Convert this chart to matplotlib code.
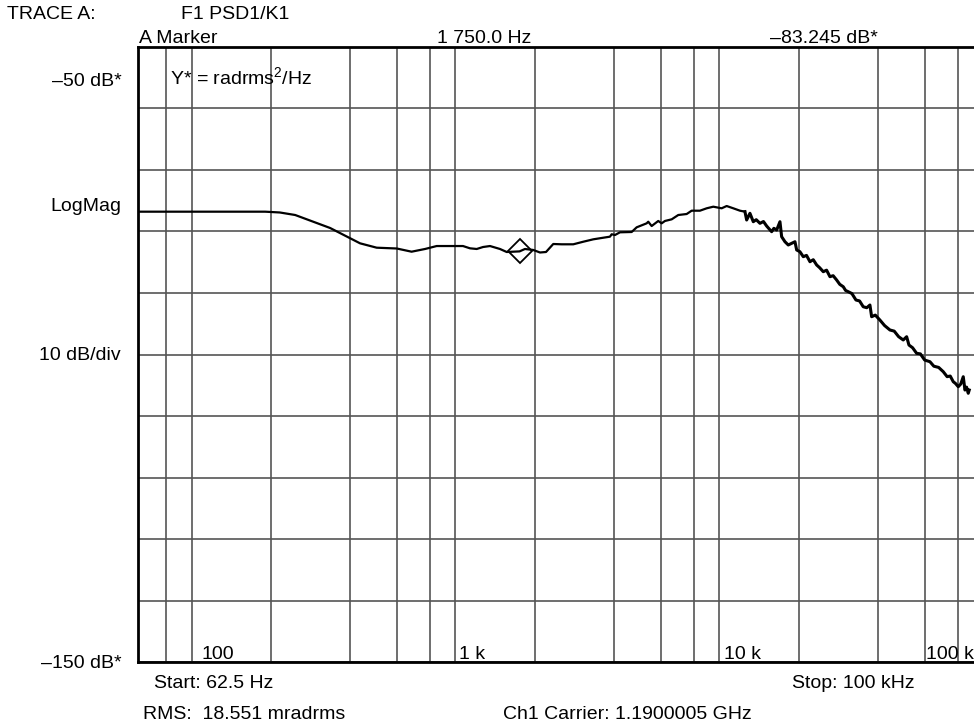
import matplotlib
matplotlib.use('Agg')
import matplotlib.pyplot as plt
import numpy as np

plt.rcParams['font.family'] = ['Liberation Sans', 'DejaVu Sans']
plt.rcParams['mathtext.fontset'] = 'custom'
plt.rcParams['mathtext.rm'] = 'Liberation Sans'
plt.rcParams['mathtext.it'] = 'Liberation Sans:italic'

# trace (Hz, dB)
freq = [62.5, 190, 216, 247, 335, 435, 503, 599, 682, 767, 849, 1068, 1135, 1204,
        1272, 1352, 1475, 1564, 1750, 1834, 1972, 2091, 2204, 2348, 2527, 2796,
        3051, 3329, 3633, 3851, 3909, 4023, 4203, 4654, 4862, 5305, 5379, 5541,
        5869, 6046, 6223, 6600, 6989, 7520, 7856, 8444, 8957, 9487, 10206, 10662,
        11294, 11975,
        12506, 12694, 13063, 13450, 13800, 14256, 14700, 15113, 15450, 15788,
        16100, 16494, 16975, 17225, 17731, 18250, 18800, 19350, 19638, 20200,
        20806, 21400, 22056, 22700, 23381, 24000, 24769, 25500, 26256, 27000,
        27838, 28600, 29488, 30100, 30806, 31800, 32944, 34000, 35100, 36200,
        37219, 37775, 39000, 40600, 42300, 44319, 46000, 47800, 49769, 51275,
        52313, 54000, 55944, 57800, 60000, 62831, 65000, 67800, 70556, 73000,
        75000, 77013, 78500, 80438, 82200, 84031, 85281, 86500, 87769, 88538]
psd_db = [-76.8, -76.8, -76.93, -77.34, -79.45, -81.94, -82.65, -82.78, -83.30,
          -82.86, -82.38, -82.38, -82.75, -82.86, -82.54, -82.38, -82.86, -83.35,
          -83.25, -82.86, -83.02, -83.43, -83.35, -82.05, -82.10, -82.10, -81.68,
          -81.29, -81.03, -80.86, -80.47, -80.59, -80.15, -80.10, -79.34, -78.69,
          -78.43, -79.13, -78.31, -78.69, -78.31, -78.04, -77.34, -77.18, -76.64,
          -76.64, -76.25, -75.99, -76.25, -75.88, -76.25, -76.64,
          -76.80, -78.15, -77.06, -78.43, -78.1, -78.69, -78.4, -79.13, -79.6,
          -80.05, -79.5, -79.78, -78.43, -80.86, -81.68, -82.21, -81.94, -81.68,
          -83.02, -83.3, -84.11, -83.9, -84.93, -84.6, -85.46, -85.9, -86.55,
          -86.3, -87.36, -87.2, -87.90, -88.6, -88.99, -89.6, -89.80, -90.1,
          -91.15, -91.3, -92.24, -92.4, -91.96, -93.86, -93.6, -94.40, -95.3,
          -96.02, -96.2, -97.1, -97.64, -97.11, -98.46, -98.9, -99.81, -99.9,
          -100.9, -101.17, -101.9, -102.1, -102.79, -103.6, -103.5, -104.42,
          -104.7, -105.23, -104.8, -103.61, -105.77, -105.3, -106.30, -105.77]

marker_freq = 1750.0
marker_db = -83.245

grid_freq = [80, 100, 200, 400, 600, 800, 1000, 2000, 4000, 6000, 8000,
             10000, 20000, 40000, 60000, 80000]
grid_db = list(range(-150, -40, 10))
freq_labels = ['100', '1 k', '10 k', '100 k']
freq_label_at = [100, 1000, 10000, 60000]

W, H = 974, 725
fig = plt.figure(figsize=(W / 100, H / 100), dpi=100)
left, right, top, bottom = 137.7, 983.2, 46.7, 662.3
ax = fig.add_axes([left / W, 1 - bottom / H, (right - left) / W, (bottom - top) / H])

ax.set_xscale('log')
ax.set_xlim(62.5, 100000)
ax.set_ylim(-150, -50)
ax.set_xticks(grid_freq)
ax.set_yticks(grid_db)
ax.xaxis.set_minor_locator(matplotlib.ticker.NullLocator())
ax.set_xticklabels([])
ax.set_yticklabels([])
ax.tick_params(length=0)
ax.grid(True, color='#555555', lw=1.2)
for s in ax.spines.values():
    s.set_linewidth(2)
    s.set_color('black')

f = np.array(freq)
d = np.array(psd_db)
lo = f <= 12600
ax.plot(f[lo], d[lo], color='black', lw=1.6, zorder=3)
hi = f >= 12506
ax.plot(f[hi], d[hi], color='black', lw=2.2, zorder=3)
ax.plot([marker_freq], [marker_db], marker='D', ms=12.5, mfc='none',
        mec='black', mew=1.3, zorder=4)

offs = [10, 4, 5, 1]
for lab, fx, dx in zip(freq_labels, freq_label_at, offs):
    ax.annotate(lab, xy=(fx, 0), xycoords=('data', 'axes fraction'),
                xytext=(dx, 3.5), textcoords='offset pixels',
                ha='left', va='baseline', fontsize=14)


def ftext(x, y, s, ha='left'):
    fig.text(x / W, 1 - y / H, s, ha=ha, va='baseline', fontsize=14)


ftext(7, 19, 'TRACE A:')
ftext(181, 19, 'F1 PSD1/K1')
ftext(139, 43, 'A Marker')
ftext(437, 43, '1 750.0 Hz')
ftext(770, 43, '\u201383.245 dB*')
ftext(122, 86, '\u201350 dB*', ha='right')
ftext(170, 84, 'Y* = radrms$^2$/Hz')
ftext(121, 211, 'LogMag', ha='right')
ftext(121, 360, '10 dB/div', ha='right')
ftext(122, 668, '\u2013150 dB*', ha='right')
ftext(154, 688, 'Start: 62.5 Hz')
ftext(792, 688, 'Stop: 100 kHz')
ftext(143, 719, 'RMS:  18.551 mradrms')
ftext(503, 719, 'Ch1 Carrier: 1.1900005 GHz')

fig.savefig('out.png', dpi=100)
